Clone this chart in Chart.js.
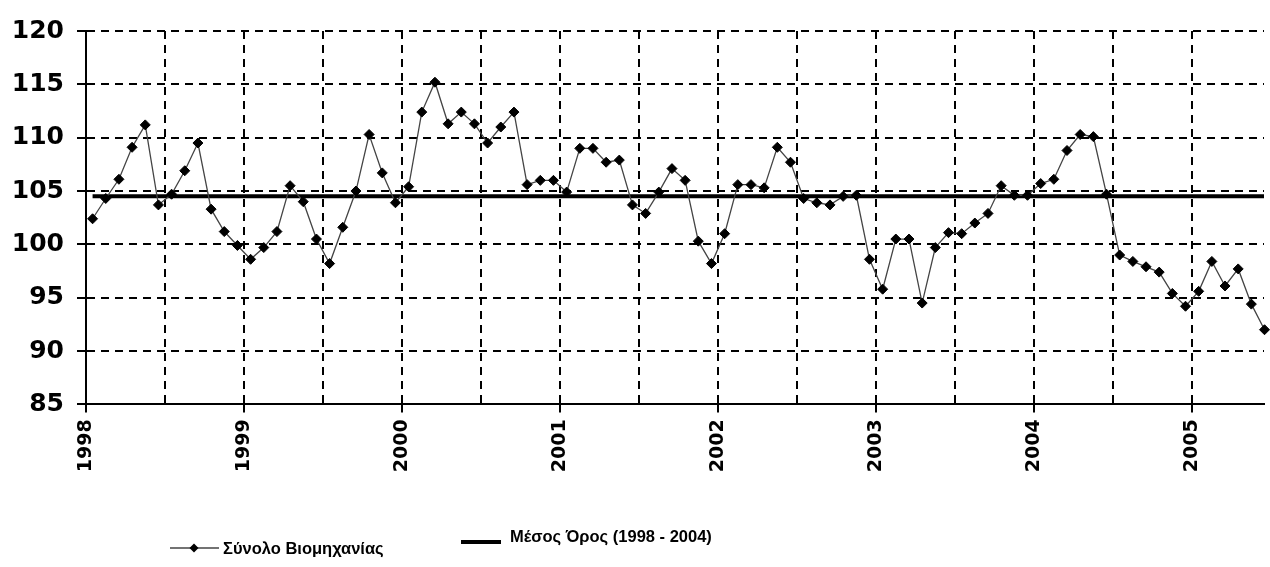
<!DOCTYPE html>
<html>
<head>
<meta charset="utf-8">
<script src="https://cdn.jsdelivr.net/npm/chart.js@4.4.1/dist/chart.umd.min.js"></script>
<style>
  html, body { margin: 0; padding: 0; background: #fff; }
  #wrap { width: 1270px; height: 567px; }
</style>
</head>
<body>
<div id="wrap"><canvas id="chart" width="1270" height="567"></canvas></div>
<script>
// monthly index, Jan 1998 .. Jun 2005
const startYear = 1998;
const seriesLabel = 'Σύνολο Βιομηχανίας';
const averageLabel = 'Μέσος Όρος (1998 - 2004)';

const values = [
  102.4, 104.3, 106.1, 109.1, 111.2, 103.7, 104.7, 106.9, 109.5, 103.3, 101.2, 99.9,   // 1998
  98.6, 99.7, 101.2, 105.5, 104.0, 100.5, 98.2, 101.6, 105.0, 110.3, 106.7, 103.9,     // 1999
  105.4, 112.4, 115.2, 111.3, 112.4, 111.3, 109.5, 111.0, 112.4, 105.6, 106.0, 106.0,  // 2000
  104.9, 109.0, 109.0, 107.7, 107.9, 103.7, 102.9, 104.9, 107.1, 106.0, 100.3, 98.2,   // 2001
  101.0, 105.6, 105.6, 105.3, 109.1, 107.7, 104.3, 103.9, 103.7, 104.5, 104.6, 98.6,   // 2002
  95.8, 100.5, 100.5, 94.5, 99.7, 101.1, 101.0, 102.0, 102.9, 105.5, 104.6, 104.6,     // 2003
  105.7, 106.1, 108.8, 110.3, 110.1, 104.7, 99.0, 98.4, 97.9, 97.4, 95.4, 94.2,        // 2004
  95.6, 98.4, 96.1, 97.7, 94.4, 92.0                                                   // 2005
];
const averageValue = 104.5;

const yMin = 85, yMax = 120, yStep = 5;

const points = values.map((v, i) => ({ x: startYear + (i + 0.5) / 12, y: v }));
const avgPoints = values.map((v, i) => ({ x: startYear + (i + 0.5) / 12, y: averageValue }));

// legend drawn under the axis labels, like the original
const bottomLegend = {
  id: 'bottomLegend',
  afterDraw(chart) {
    const ctx = chart.ctx;
    const ds = chart.data.datasets;
    ctx.save();
    ctx.strokeStyle = '#444';
    ctx.lineWidth = 1.5;
    ctx.beginPath();
    ctx.moveTo(170, 548);
    ctx.lineTo(219, 548);
    ctx.stroke();
    ctx.fillStyle = '#000';
    ctx.beginPath();
    ctx.moveTo(194, 543.5);
    ctx.lineTo(198.5, 548);
    ctx.lineTo(194, 552.5);
    ctx.lineTo(189.5, 548);
    ctx.closePath();
    ctx.fill();
    ctx.font = 'bold 16.5px "Liberation Sans", Arial, sans-serif';
    ctx.textBaseline = 'middle';
    ctx.fillText(ds[0].label, 223, 549);

    ctx.strokeStyle = '#000';
    ctx.lineWidth = 4;
    ctx.beginPath();
    ctx.moveTo(461, 542);
    ctx.lineTo(501, 542);
    ctx.stroke();
    ctx.fillText(ds[1].label, 510, 537);
    ctx.restore();
  }
};

new Chart(document.getElementById('chart'), {
  type: 'line',
  data: {
    datasets: [
      {
        label: seriesLabel,
        data: points,
        borderColor: '#444',
        borderWidth: 1.3,
        pointStyle: 'rectRot',
        pointRadius: 5,
        pointBackgroundColor: '#000',
        pointBorderColor: '#000',
        pointBorderWidth: 1,
        tension: 0,
        clip: false
      },
      {
        label: averageLabel,
        data: avgPoints,
        borderColor: '#000',
        borderWidth: 4,
        pointRadius: 0
      }
    ]
  },
  options: {
    responsive: false,
    animation: false,
    devicePixelRatio: 1,
    layout: { padding: { top: 31, right: 0, bottom: 0, left: 0 } },
    plugins: {
      legend: { display: false },
      tooltip: { enabled: false }
    },
    scales: {
      x: {
        type: 'linear',
        min: startYear,
        max: 2005.455,
        afterBuildTicks: scale => {
          const t = [];
          for (let v = startYear; v <= scale.max; v += 0.5) t.push({ value: v });
          scale.ticks = t;
        },
        afterFit: scale => { scale.height = 162.6; },
        grid: {
          color: '#000',
          lineWidth: 2,
          tickLength: 8,
          tickWidth: 2,
          tickColor: c => (c.tick && Number.isInteger(c.tick.value)) ? '#000' : 'rgba(0,0,0,0)'
        },
        border: { display: true, color: '#000', width: 2, dash: [8, 6] },
        ticks: {
          autoSkip: false,
          minRotation: 90,
          maxRotation: 90,
          padding: 7,
          color: '#000',
          font: { family: '"DejaVu Sans"', weight: 'bold', size: 19 },
          callback: v => Number.isInteger(v) ? String(v) : ''
        }
      },
      y: {
        min: yMin,
        max: yMax,
        afterFit: scale => { scale.width = 86; },
        grid: { color: '#000', lineWidth: 2, tickLength: 9, tickWidth: 2, tickColor: '#000' },
        border: { display: true, color: '#000', width: 2, dash: [8, 6] },
        ticks: {
          stepSize: yStep,
          padding: 13,
          color: '#000',
          font: { family: '"DejaVu Sans"', weight: 'bold', size: 25 }
        }
      }
    }
  },
  plugins: [bottomLegend]
});
</script>
</body>
</html>
